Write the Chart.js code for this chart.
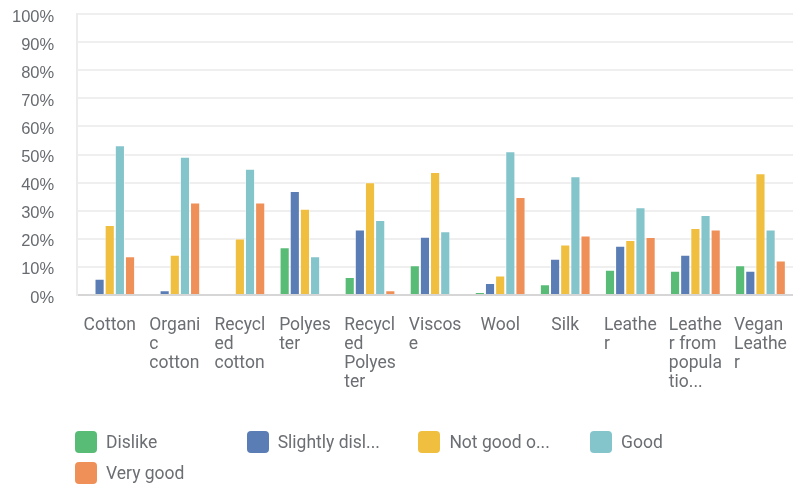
<!DOCTYPE html>
<html>
<head>
<meta charset="utf-8">
<script src="https://cdn.jsdelivr.net/npm/chart.js@4/dist/chart.umd.min.js"></script>
<style>
  html, body { margin: 0; padding: 0; background: #ffffff; }
  #wrap { position: relative; width: 793px; height: 487px; }
  #chart { position: absolute; left: 0; top: 0; }
  #legend { position: absolute; left: 75px; top: 431px; width: 718px; font-family: Roboto, sans-serif; font-size: 17.5px; color: #6b6e72; }
  .item { position: absolute; display: flex; align-items: center; height: 22px; white-space: nowrap; }
  .box { width: 22px; height: 22px; border-radius: 4px; margin-right: 9px; box-sizing: border-box; }
</style>
</head>
<body>
<div id="wrap">
  <canvas id="chart" width="793" height="487"></canvas>
  <div id="legend"></div>
</div>
<script>
// Fabric categories, wrapped the way they appear under the axis
const categories = [
  ["Cotton"],
  ["Organi", "c", "cotton"],
  ["Recycl", "ed", "cotton"],
  ["Polyes", "ter"],
  ["Recycl", "ed", "Polyes", "ter"],
  ["Viscos", "e"],
  ["Wool"],
  ["Silk"],
  ["Leathe", "r"],
  ["Leathe", "r from", "popula", "tio..."],
  ["Vegan", "Leathe", "r"]
];

const seriesNames = ["Dislike", "Slightly disl...", "Not good o...", "Good", "Very good"];
const seriesColors = ["#58bc77", "#5b7db5", "#f0bf40", "#84c5cb", "#f09059"];

// Share of respondents (%) per category
const dislike         = [0,    0,    0,    17.0, 6.4,  10.6, 1.1,  3.8,  9.0,  8.6,  10.6];
const slightlyDislike = [5.8,  1.7,  0,    37.0, 23.3, 20.7, 4.3,  12.9, 17.5, 14.3, 8.6];
const notGoodOrBad    = [24.9, 14.3, 20.1, 30.7, 40.1, 43.8, 6.9,  18.0, 19.6, 23.8, 43.3];
const good            = [53.3, 49.2, 44.9, 13.8, 26.7, 22.7, 51.2, 42.3, 31.2, 28.5, 23.3];
const veryGood        = [13.8, 32.9, 32.9, 0,    1.7,  0,    34.9, 21.2, 20.6, 23.3, 12.3];

const yTicks = [0, 10, 20, 30, 40, 50, 60, 70, 80, 90, 100];

const seriesValues = [dislike, slightlyDislike, notGoodOrBad, good, veryGood];

const labelColor = "#6b6e72";

// Category labels: each block is centred on its group, lines left-aligned inside the block
const wrappedLabels = {
  id: "wrappedLabels",
  afterDraw(chart) {
    const ctx = chart.ctx;
    const x = chart.scales.x;
    const base = chart.chartArea.bottom + 35;
    ctx.save();
    ctx.font = "17.5px Roboto, sans-serif";
    ctx.fillStyle = labelColor;
    ctx.textAlign = "left";
    ctx.textBaseline = "alphabetic";
    categories.forEach((lines, i) => {
      const cx = x.getPixelForValue(i);
      const w = Math.max(...lines.map(l => ctx.measureText(l).width));
      const left = cx - w / 2;
      lines.forEach((line, k) => ctx.fillText(line, left, base + k * 19));
    });
    ctx.restore();
  }
};

const chart = new Chart(document.getElementById("chart"), {
  type: "bar",
  data: {
    labels: categories.map(c => c.join(" ")),
    datasets: seriesNames.map((name, i) => ({
      label: name,
      data: seriesValues[i],
      backgroundColor: seriesColors[i],
      borderColor: "rgba(255,255,255,0.55)",
      borderWidth: 1,
      categoryPercentage: 0.78,
      barPercentage: 1
    }))
  },
  options: {
    responsive: false,
    devicePixelRatio: 1,
    animation: false,
    layout: { padding: { top: 0, right: 0, bottom: 192, left: -11 } },
    plugins: {
      legend: { display: false },
      tooltip: { enabled: false }
    },
    scales: {
      x: {
        grid: { display: false, drawTicks: false },
        border: { display: true, color: "#d6d6d6", width: 2 },
        ticks: { display: false }
      },
      y: {
        min: 0,
        max: 100,
        afterBuildTicks(scale) { scale.ticks = yTicks.map(v => ({ value: v })); },
        // keep the tick padding from pushing the plot down
        afterFit(scale) { scale.paddingTop = 14; scale.paddingBottom = 10; },
        grid: { color: "#efefef", lineWidth: 2, drawTicks: false },
        border: { display: true, color: "#ececec", width: 2 },
        ticks: {
          padding: 23,
          labelOffset: 3,
          color: "#676b70",
          font: { family: "'Liberation Sans', Arial, sans-serif", size: 16.5 },
          callback: v => v + "%"
        }
      }
    }
  },
  plugins: [wrappedLabels]
});

// Legend laid out in fixed-width columns, wrapping after four entries
const legend = document.getElementById("legend");
seriesNames.forEach((name, i) => {
  const item = document.createElement("div");
  item.className = "item";
  item.style.left = (i % 4) * 171.7 + "px";
  item.style.top = Math.floor(i / 4) * 31 + "px";
  const box = document.createElement("span");
  box.className = "box";
  box.style.background = seriesColors[i];
  const text = document.createElement("span");
  text.textContent = name;
  item.appendChild(box);
  item.appendChild(text);
  legend.appendChild(item);
});
</script>
</body>
</html>
